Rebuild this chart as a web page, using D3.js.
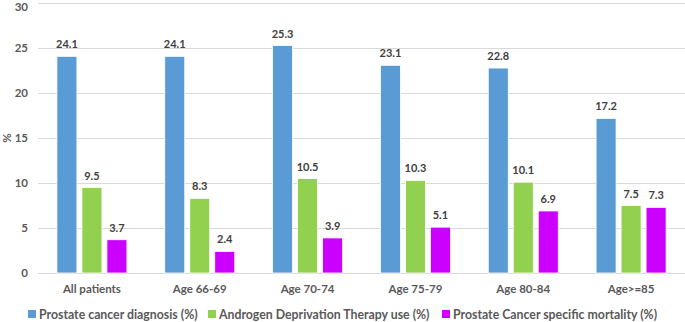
<!DOCTYPE html>
<html>
<head>
<meta charset="utf-8">
<script src="https://cdn.jsdelivr.net/npm/d3@7"></script>
<style>
  body { margin: 0; background: #fff; }
  svg text { font-family: Lato, "Open Sans", sans-serif; font-weight: bold; }
</style>
</head>
<body>
<div id="chart"></div>
<script>
const categories = ['All patients', 'Age 66-69', 'Age 70-74', 'Age 75-79', 'Age 80-84', 'Age>=85'];
const seriesNames = ['Prostate cancer diagnosis (%)', 'Androgen Deprivation Therapy use (%)', 'Prostate Cancer specific mortality (%)'];
const diagnosis = [24.1, 24.1, 25.3, 23.1, 22.8, 17.2];
const adtUse = [9.5, 8.3, 10.5, 10.3, 10.1, 7.5];
const mortality = [3.7, 2.4, 3.9, 5.1, 6.9, 7.3];
const yTicks = [0, 5, 10, 15, 20, 25, 30];
const colors = ['#5B9BD5', '#92D050', '#CC00FF'];

const series = [diagnosis, adtUse, mortality];
const width = 685;
const height = 322;
const margin = { top: 3, right: 0, bottom: 49, left: 38 };

const svg = d3.select('#chart').append('svg')
  .attr('width', width)
  .attr('height', height);

const x0 = d3.scaleBand()
  .domain(categories)
  .range([margin.left, width - margin.right])
  .padding(0);

const x1 = d3.scaleBand()
  .domain([0, 1, 2])
  .range([x0.bandwidth() / 2 - 35, x0.bandwidth() / 2 + 35])
  .paddingInner(0.2);

const y = d3.scaleLinear()
  .domain([0, 30])
  .range([height - margin.bottom, margin.top + 0.3]);

// gridlines
svg.selectAll('.grid')
  .data(yTicks)
  .enter()
  .append('line')
  .attr('x1', margin.left)
  .attr('x2', width)
  .attr('y1', d => Math.round(y(d)) + 0.5)
  .attr('y2', d => Math.round(y(d)) + 0.5)
  .attr('stroke', '#d9d9d9')
  .attr('stroke-width', 1.2);

svg.selectAll('.ytick')
  .data(yTicks)
  .enter()
  .append('text')
  .attr('x', 28)
  .attr('y', d => Math.max(y(d) + 4, 10.5))
  .attr('text-anchor', 'end')
  .attr('font-size', 11.5)
  .attr('fill', '#595959')
  .text(d => d);

svg.append('text')
  .attr('transform', `translate(11, ${y(15)}) rotate(-90)`)
  .attr('text-anchor', 'middle')
  .attr('font-size', 11.5)
  .attr('fill', '#595959')
  .text('%');

const groups = svg.selectAll('.grp')
  .data(categories)
  .enter()
  .append('g')
  .attr('transform', d => `translate(${x0(d)},0)`);

groups.selectAll('rect')
  .data((d, i) => series.map((s, k) => ({ k, v: s[i] })))
  .enter()
  .append('rect')
  .attr('x', d => x1(d.k))
  .attr('width', x1.bandwidth())
  .attr('y', d => y(d.v))
  .attr('height', d => y(0) - y(d.v))
  .attr('fill', d => colors[d.k])
  .attr('stroke', '#fff')
  .attr('stroke-width', 0.8);

groups.selectAll('.val')
  .data((d, i) => series.map((s, k) => ({ k, v: s[i] })))
  .enter()
  .append('text')
  .attr('x', d => x1(d.k) + x1.bandwidth() / 2)
  .attr('y', d => y(d.v) - 8)
  .attr('text-anchor', 'middle')
  .attr('font-size', 11)
  .attr('fill', '#404040')
  .text(d => d.v.toFixed(1));

groups.append('text')
  .attr('x', x0.bandwidth() / 2)
  .attr('y', 293)
  .attr('text-anchor', 'middle')
  .attr('font-size', 11.5)
  .attr('fill', '#595959')
  .text(d => d);

// legend
const legendX = [28, 208, 442];
const legend = svg.selectAll('.leg')
  .data(seriesNames)
  .enter()
  .append('g')
  .attr('transform', (d, i) => `translate(${legendX[i]}, 314)`);

legend.append('rect')
  .attr('x', 0)
  .attr('y', -4)
  .attr('width', 8)
  .attr('height', 8)
  .attr('fill', (d, i) => colors[i]);

legend.append('text')
  .attr('x', 11)
  .attr('y', 4.5)
  .attr('font-size', 12.3)
  .attr('fill', '#595959')
  .text(d => d);
</script>
</body>
</html>
